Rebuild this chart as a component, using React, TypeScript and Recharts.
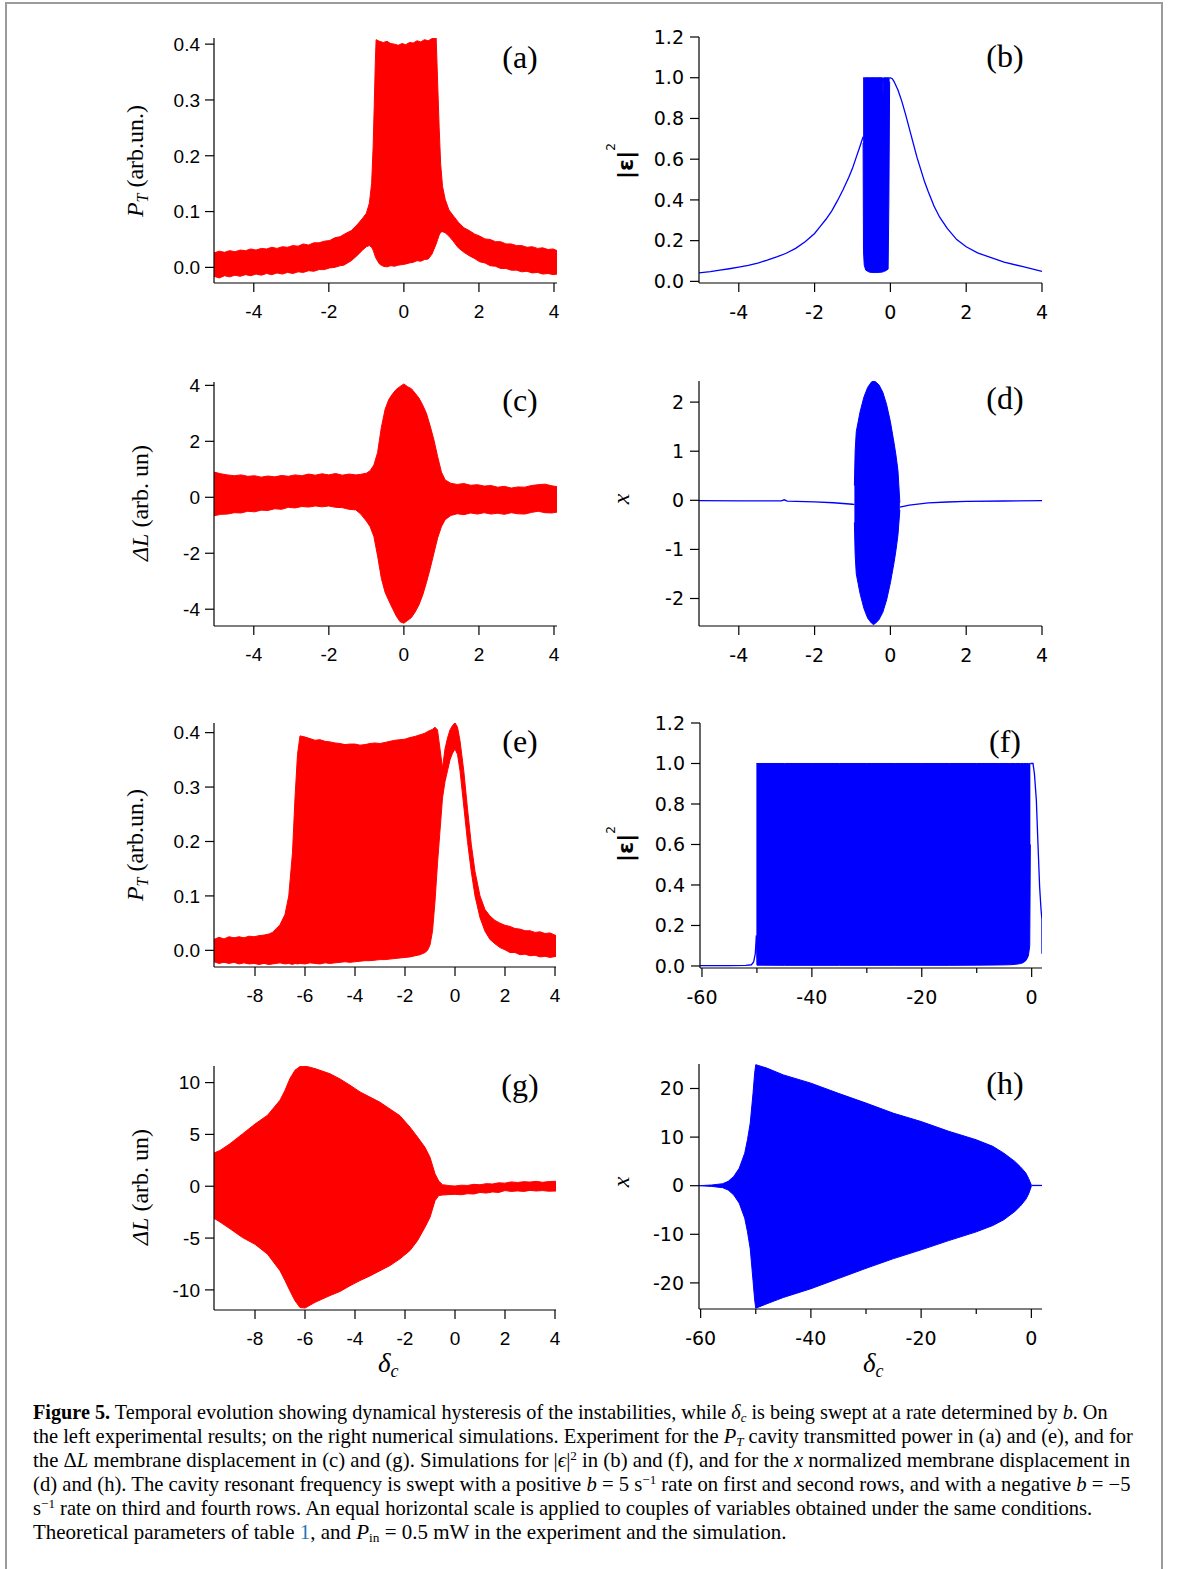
import React, { useLayoutEffect, useRef, useState } from "react";
import { ComposedChart, Area, Line, XAxis, YAxis } from "recharts";

const RED = "#ff0000";
const BLUE = "#0000ff";

// (a) experiment, transmitted power, positive sweep (left flat / resonance / right flat)
const aX1 = [-5.06, -4.92, -4.78, -4.64, -4.5, -4.36, -4.22, -4.08, -3.94, -3.8, -3.66, -3.52, -3.38, -3.24, -3.1, -2.96, -2.82, -2.68, -2.54, -2.4, -2.26, -2.12, -1.98, -1.84, -1.7, -1.6];
const aHi1 = [0.026, 0.029, 0.027, 0.03, 0.028, 0.031, 0.03, 0.033, 0.031, 0.034, 0.033, 0.036, 0.034, 0.037, 0.036, 0.039, 0.038, 0.042, 0.04, 0.044, 0.044, 0.047, 0.048, 0.053, 0.055, 0.059];
const aLo1 = [-0.016, -0.019, -0.015, -0.017, -0.014, -0.016, -0.013, -0.015, -0.012, -0.014, -0.011, -0.013, -0.01, -0.012, -0.009, -0.011, -0.008, -0.009, -0.006, -0.007, -0.004, -0.004, -0.001, 0.0, 0.003, 0.004];
const aX2 = [-1.4, -1.25, -1.1, -1.0, -0.92, -0.86, -0.82, -0.79, -0.76, -0.74, -0.65, -0.55, -0.45, -0.35, -0.25, -0.15, -0.05, 0.05, 0.15, 0.25, 0.35, 0.45, 0.55, 0.65, 0.75, 0.86, 0.9, 0.94, 0.98, 1.03, 1.1, 1.2, 1.3, 1.45];
const aHi2 = [0.066, 0.076, 0.088, 0.097, 0.115, 0.15, 0.215, 0.29, 0.37, 0.408, 0.405, 0.403, 0.405, 0.401, 0.4, 0.398, 0.401, 0.399, 0.403, 0.402, 0.406, 0.404, 0.408, 0.406, 0.41, 0.411, 0.33, 0.25, 0.185, 0.145, 0.122, 0.103, 0.094, 0.081];
const aLo2 = [0.012, 0.021, 0.031, 0.037, 0.039, 0.036, 0.031, 0.025, 0.019, 0.016, 0.006, 0.002, 0.001, 0.003, 0.002, 0.004, 0.005, 0.006, 0.008, 0.009, 0.012, 0.011, 0.014, 0.015, 0.024, 0.042, 0.05, 0.058, 0.063, 0.064, 0.062, 0.056, 0.048, 0.035];
const aX3 = [1.6, 1.74, 1.88, 2.02, 2.16, 2.3, 2.44, 2.58, 2.72, 2.86, 3.0, 3.14, 3.28, 3.42, 3.56, 3.7, 3.84, 3.98, 4.08];
const aHi3 = [0.071, 0.066, 0.06, 0.056, 0.051, 0.05, 0.046, 0.046, 0.042, 0.042, 0.039, 0.039, 0.036, 0.037, 0.034, 0.035, 0.032, 0.033, 0.03];
const aLo3 = [0.027, 0.021, 0.016, 0.01, 0.008, 0.003, 0.002, -0.002, -0.002, -0.005, -0.005, -0.008, -0.007, -0.01, -0.009, -0.012, -0.011, -0.013, -0.012];

// (b) simulation |eps|^2, positive sweep
const bLX = [-5.05, -4.75, -4.5, -4.25, -4, -3.75, -3.5, -3.25, -3, -2.75, -2.5, -2.25, -2, -1.85, -1.7, -1.55, -1.4, -1.25, -1.1, -1.0, -0.9, -0.8, -0.72];
const bLY = [0.042, 0.048, 0.055, 0.062, 0.07, 0.078, 0.09, 0.104, 0.12, 0.138, 0.162, 0.195, 0.235, 0.27, 0.305, 0.345, 0.395, 0.45, 0.51, 0.555, 0.61, 0.665, 0.71];
const bBX = [-0.72, -0.71, -0.69, -0.65, -0.55, -0.4, -0.25, -0.21, -0.195, -0.18, -0.15, -0.1, -0.06, -0.04, -0.02];
const bBLo = [0.68, 0.15, 0.08, 0.055, 0.045, 0.043, 0.045, 0.046, 0.047, 0.048, 0.05, 0.055, 0.06, 0.4, 0.98];
const bBHi = [1.0, 1.0, 1.0, 1.0, 1.0, 1.0, 1.0, 1.0, 0.91, 1.0, 1.0, 1.0, 1.0, 1.0, 1.0];
const bRX = [-0.02, 0.05, 0.1, 0.2, 0.3, 0.4, 0.5, 0.6, 0.7, 0.8, 0.9, 1.0, 1.15, 1.3, 1.5, 1.75, 2.0, 2.3, 2.6, 3.0, 3.5, 4.0];
const bRY = [1.0, 0.995, 0.98, 0.94, 0.885, 0.82, 0.75, 0.68, 0.61, 0.55, 0.49, 0.44, 0.37, 0.315, 0.26, 0.205, 0.17, 0.14, 0.12, 0.095, 0.072, 0.049];

// (c) experiment, membrane displacement, positive sweep
const cX1 = [-5.06, -4.88, -4.7, -4.52, -4.34, -4.16, -3.98, -3.8, -3.62, -3.44, -3.26, -3.08, -2.9, -2.72, -2.54, -2.36, -2.18, -2.0, -1.82, -1.64, -1.46, -1.28, -1.15];
const cHi1 = [0.9, 0.84, 0.8, 0.77, 0.8, 0.75, 0.77, 0.72, 0.76, 0.73, 0.78, 0.75, 0.8, 0.77, 0.83, 0.79, 0.84, 0.8, 0.85, 0.79, 0.83, 0.8, 0.82];
const cLo1 = [-0.66, -0.61, -0.6, -0.55, -0.56, -0.5, -0.52, -0.46, -0.47, -0.41, -0.43, -0.36, -0.38, -0.33, -0.35, -0.31, -0.34, -0.31, -0.36, -0.37, -0.43, -0.45, -0.6];
const cX2 = [-1.0, -0.9, -0.8, -0.7, -0.6, -0.5, -0.4, -0.3, -0.2, -0.1, 0, 0.1, 0.2, 0.3, 0.4, 0.5, 0.6, 0.7, 0.8, 0.9, 1.0, 1.1];
const cHi2 = [0.86, 0.95, 1.15, 1.6, 2.5, 3.15, 3.5, 3.7, 3.86, 3.96, 4.05, 3.95, 3.88, 3.72, 3.55, 3.3, 3.0, 2.55, 2.05, 1.45, 0.9, 0.62];
const cLo2 = [-0.85, -1.05, -1.4, -2.1, -2.9, -3.4, -3.7, -3.98, -4.25, -4.45, -4.5, -4.4, -4.3, -4.1, -3.85, -3.5, -3.05, -2.55, -2.0, -1.45, -1.05, -0.8];
const cX3 = [1.25, 1.42, 1.6, 1.78, 1.96, 2.14, 2.32, 2.5, 2.68, 2.86, 3.04, 3.22, 3.4, 3.58, 3.76, 3.94, 4.08];
const cHi3 = [0.5, 0.46, 0.49, 0.43, 0.45, 0.4, 0.42, 0.36, 0.39, 0.33, 0.37, 0.36, 0.42, 0.45, 0.47, 0.41, 0.38];
const cLo3 = [-0.65, -0.59, -0.62, -0.56, -0.6, -0.55, -0.6, -0.57, -0.61, -0.55, -0.59, -0.6, -0.54, -0.5, -0.55, -0.56, -0.53];

// (d) simulation x, positive sweep
const dLX = [-5.05, -4, -3, -2.88, -2.8, -2.72, -2, -1.5, -1, -0.95];
const dLY = [-0.007, -0.01, -0.012, -0.013, 0.01, -0.015, -0.03, -0.05, -0.08, -0.09];
const dBX = [-0.95, -0.93, -0.9, -0.85, -0.8, -0.7, -0.6, -0.5, -0.45, -0.4, -0.3, -0.2, -0.1, 0, 0.1, 0.15, 0.2, 0.25];
const dBLo = [-0.45, -1.1, -1.5, -1.7, -1.9, -2.2, -2.4, -2.5, -2.53, -2.51, -2.43, -2.28, -2.03, -1.68, -1.25, -1.0, -0.7, -0.2];
const dBHi = [0.3, 1.0, 1.4, 1.6, 1.8, 2.1, 2.3, 2.41, 2.44, 2.42, 2.35, 2.2, 1.95, 1.6, 1.15, 0.9, 0.6, -0.05];
const dRX = [0.25, 0.5, 1.0, 1.5, 2, 3, 4];
const dRY = [-0.14, -0.1, -0.054, -0.034, -0.02, -0.014, -0.007];

// (e) experiment, transmitted power, negative sweep
const eX1 = [-9.64, -9.44, -9.24, -9.04, -8.84, -8.64, -8.44, -8.24, -8.04, -7.84, -7.64, -7.44, -7.3, -7.15, -7.0, -6.8, -6.65, -6.5, -6.4, -6.3, -6.2];
const eHi1 = [0.02, 0.024, 0.021, 0.025, 0.023, 0.025, 0.023, 0.026, 0.025, 0.027, 0.028, 0.03, 0.033, 0.04, 0.047, 0.066, 0.1, 0.18, 0.28, 0.36, 0.394];
const eLo1 = [-0.021, -0.024, -0.022, -0.024, -0.022, -0.025, -0.023, -0.025, -0.024, -0.026, -0.024, -0.026, -0.025, -0.024, -0.023, -0.025, -0.024, -0.026, -0.024, -0.025, -0.024];
const eX2 = [-6.0, -5.8, -5.6, -5.4, -5.2, -5.0, -4.8, -4.6, -4.4, -4.2, -4.0, -3.8, -3.6, -3.4, -3.2, -3.0, -2.8, -2.6, -2.4, -2.2, -2.0, -1.8, -1.6, -1.4, -1.2, -1.1];
const eHi2 = [0.392, 0.389, 0.386, 0.387, 0.384, 0.383, 0.381, 0.38, 0.378, 0.379, 0.379, 0.377, 0.378, 0.38, 0.381, 0.38, 0.382, 0.384, 0.386, 0.387, 0.388, 0.391, 0.393, 0.396, 0.399, 0.402];
const eLo2 = [-0.025, -0.023, -0.024, -0.025, -0.023, -0.024, -0.023, -0.022, -0.021, -0.022, -0.021, -0.02, -0.019, -0.019, -0.018, -0.017, -0.017, -0.016, -0.015, -0.014, -0.013, -0.012, -0.01, -0.008, -0.004, 0.0];
const eX3 = [-1.0, -0.9, -0.8, -0.7, -0.6, -0.5, -0.4, -0.3, -0.2, -0.1, 0, 0.1, 0.2, 0.35, 0.5, 0.65, 0.8, 1.0, 1.2, 1.4];
const eHi3 = [0.404, 0.406, 0.41, 0.405, 0.37, 0.335, 0.37, 0.39, 0.405, 0.413, 0.418, 0.41, 0.385, 0.33, 0.26, 0.195, 0.145, 0.1, 0.075, 0.063];
const eLo3 = [0.01, 0.035, 0.09, 0.16, 0.22, 0.28, 0.31, 0.33, 0.35, 0.362, 0.37, 0.36, 0.33, 0.265, 0.2, 0.145, 0.1, 0.06, 0.035, 0.02];
const eX4 = [1.6, 1.8, 2.0, 2.2, 2.4, 2.6, 2.8, 3.0, 3.2, 3.4, 3.6, 3.8, 4.05];
const eHi4 = [0.055, 0.05, 0.046, 0.044, 0.04, 0.039, 0.036, 0.036, 0.033, 0.034, 0.031, 0.032, 0.027];
const eLo4 = [0.012, 0.005, 0.001, -0.004, -0.004, -0.008, -0.007, -0.01, -0.009, -0.012, -0.011, -0.013, -0.011];

// (f) simulation |eps|^2, negative sweep
const fLX = [-60.36, -55, -52, -51, -50.6, -50.3, -50.1];
const fLY = [0.002, 0.002, 0.003, 0.006, 0.02, 0.06, 0.15];
const fBX = [-50.1, -50.0, -45, -40, -35, -30, -25, -20, -15, -10, -6, -4, -3, -2, -1.5, -1, -0.6, -0.35, -0.24];
const fBLo = [0.15, 0.004, 0.003, 0.003, 0.003, 0.003, 0.003, 0.003, 0.003, 0.004, 0.005, 0.006, 0.008, 0.012, 0.017, 0.028, 0.05, 0.1, 0.6];
const fBHi = [1.0, 1.0, 1.0, 1.0, 1.0, 1.0, 1.0, 1.0, 1.0, 1.0, 1.0, 1.0, 1.0, 1.0, 1.0, 1.0, 1.0, 1.0, 1.0];
const fRX = [-0.24, 0.0, 0.24, 0.5, 0.85, 1.15, 1.45, 1.7, 1.87, 1.88];
const fRY = [1.0, 1.0, 1.0, 0.95, 0.82, 0.6, 0.39, 0.28, 0.23, 0.06];

// (g) experiment, membrane displacement, negative sweep
const gX1 = [-9.64, -9.4, -9.0, -8.5, -8.0, -7.5, -7.0, -6.8, -6.6, -6.4, -6.2, -6.0, -5.6, -5.0, -4.6, -4.2, -3.8, -3.4, -3.0, -2.6, -2.2, -1.8, -1.5, -1.2, -1.0, -0.8, -0.65, -0.5];
const gHi1 = [3.2, 3.45, 4.1, 5.05, 6.0, 6.85, 8.3, 9.25, 10.4, 11.2, 11.55, 11.6, 11.35, 10.85, 10.35, 9.75, 9.1, 8.6, 8.1, 7.45, 6.8, 5.7, 4.75, 3.75, 2.8, 1.2, 0.5, 0.15];
const gLo1 = [-3.1, -3.45, -4.1, -4.95, -5.6, -6.55, -8.15, -9.1, -10.1, -11.05, -11.7, -11.75, -11.2, -10.55, -10.15, -9.6, -9.1, -8.65, -8.15, -7.65, -7.0, -6.2, -5.25, -3.95, -3.0, -1.4, -0.9, -0.85];
const gX2 = [-0.2, 0, 0.25, 0.5, 0.75, 1.0, 1.25, 1.5, 1.75, 2.0, 2.25, 2.5, 2.75, 3.0, 3.25, 3.5, 3.75, 4.05];
const gHi2 = [0.05, 0.02, 0.1, 0.08, 0.18, 0.14, 0.25, 0.22, 0.33, 0.3, 0.42, 0.36, 0.44, 0.4, 0.47, 0.38, 0.45, 0.48];
const gLo2 = [-0.8, -0.78, -0.82, -0.72, -0.75, -0.6, -0.66, -0.55, -0.6, -0.42, -0.5, -0.45, -0.5, -0.4, -0.46, -0.42, -0.48, -0.46];

// (h) simulation x, negative sweep
const hBX = [-60.3, -60, -58, -56, -55, -54, -53, -52, -51.5, -51, -50.5, -50.2, -50, -48, -45, -40, -35, -30, -25, -20, -15, -10, -7, -5, -3, -2, -1, -0.5, 0];
const hBHi = [0, 0.02, 0.14, 0.41, 0.9, 1.9, 3.6, 6.7, 9.5, 12.9, 19, 23.2, 24.9, 24.2, 22.8, 21.1, 19.0, 17.0, 14.9, 13.2, 11.2, 9.45, 8.1, 6.7, 5.0, 3.9, 2.6, 1.5, 0.1];
const hBLo = [0, -0.02, -0.14, -0.41, -0.9, -1.9, -3.6, -6.7, -9.5, -13.0, -19.5, -23.5, -25.2, -24.3, -23.0, -21.2, -19.1, -17.0, -15.0, -13.2, -11.3, -9.5, -8.2, -7.0, -5.3, -4.2, -2.8, -1.7, -0.1];
const hRX = [0, 0.5, 1.93];
const hRY = [0.05, 0.05, 0.05];

const band = (xs: number[], lo: number[], hi: number[]) => xs.map((x, i) => ({ x, r: [lo[i], hi[i]] }));
const curve = (xs: number[], ys: number[]) => xs.map((x, i) => ({ x, y: ys[i] }));

const YW = 80;
const XH = 60;
const MT = 10;
const MR = 12;
const TICK = 9;

const SimTick = (props: any) => {
  const { x, y, payload } = props;
  const axisY = y - 14 - TICK;
  const major = payload.value % 20 === 0;
  return (
    <g>
      <line x1={x} x2={x} y1={axisY} y2={axisY + (major ? TICK : 5)} stroke="#000" strokeWidth={1.2} />
      {major && (
        <text x={x} y={y} dy="0.71em" textAnchor="middle" fill="#000" fontSize={19} fontFamily="DejaVu Sans">
          {payload.value}
        </text>
      )}
    </g>
  );
};

type PanelProps = {
  box: [number, number, number, number];
  xDomain: [number, number];
  xTicks: number[];
  yDomain: [number, number];
  yTicks: number[];
  yDigits: number;
  sim?: boolean;
  minor?: boolean;
  children: React.ReactNode;
};

function Panel({ box, xDomain, xTicks, yDomain, yTicks, yDigits, sim, minor, children }: PanelProps) {
  const [l, t, r, b] = box;
  const w = Math.round(r - l);
  const h = Math.round(b - t);
  const tickStyle = { fill: "#000", fontSize: 19, fontFamily: sim ? "DejaVu Sans" : "Liberation Sans" };
  const axisLine = { stroke: "#000", strokeWidth: 1.2 };
  return (
    <div style={{ position: "absolute", left: l - YW, top: t - MT }}>
      <ComposedChart width={YW + w + MR} height={MT + h + XH} margin={{ top: MT, right: MR, bottom: 0, left: 0 }}>
        <XAxis
          type="number"
          dataKey="x"
          domain={xDomain}
          ticks={xTicks}
          interval={0}
          allowDataOverflow
          height={XH}
          tickSize={TICK}
          tickMargin={sim ? 14 : 13}
          axisLine={axisLine}
          tickLine={minor ? false : axisLine}
          tick={minor ? <SimTick /> : tickStyle}
        />
        <YAxis
          type="number"
          domain={yDomain}
          ticks={yTicks}
          interval={0}
          allowDataOverflow
          width={YW}
          tickSize={TICK}
          tickMargin={sim ? 6 : 5}
          axisLine={axisLine}
          tickLine={axisLine}
          tick={tickStyle}
          tickFormatter={(v: number) => (yDigits ? v.toFixed(yDigits) : String(v))}
        />
        {children}
      </ComposedChart>
    </div>
  );
}

const redBand = (data: any[]) => (
  <Area data={data} dataKey="r" type="linear" stroke={RED} strokeWidth={1} fill={RED} fillOpacity={1} isAnimationActive={false} />
);

const blueBand = (data: any[], key: string) => (
  <Area key={key} data={data} dataKey="r" type="linear" stroke={BLUE} strokeWidth={1} fill={BLUE} fillOpacity={1} isAnimationActive={false} />
);

const blueLine = (data: any[], key: string) => (
  <Line key={key} data={data} dataKey="y" type="linear" stroke={BLUE} strokeWidth={1.3} dot={false} isAnimationActive={false} />
);

const serif = "Liberation Serif";

// one caption line, squeezed horizontally to the width it has in the figure
function FitLine({ x, y, width, children }: { x: number; y: number; width?: number; children: React.ReactNode }) {
  const ref = useRef<SVGTextElement>(null);
  const [k, setK] = useState(1);
  useLayoutEffect(() => {
    if (ref.current && width) {
      const w = ref.current.getComputedTextLength();
      if (w > 0) setK(width / w);
    }
  }, [width]);
  return (
    <text ref={ref} transform={`translate(${x},${y}) scale(${k},1)`} style={{ whiteSpace: "pre" }}>
      {children}
    </text>
  );
}

export default function App() {
  return (
    <div style={{ position: "absolute", left: 0, top: 0, width: 1179, height: 1569, background: "#fff", overflow: "hidden" }}>
      <div style={{ position: "absolute", left: 5, top: 2, width: 1158, height: 1620, border: "2px solid #9b9b9b", boxSizing: "border-box" }} />

      <Panel box={[214, 38, 557, 283.3]} xDomain={[-5.06, 4.08]} xTicks={[-4, -2, 0, 2, 4]} yDomain={[-0.028, 0.411]} yTicks={[0, 0.1, 0.2, 0.3, 0.4]} yDigits={1}>
        {redBand(band([...aX1, ...aX2, ...aX3], [...aLo1, ...aLo2, ...aLo3], [...aHi1, ...aHi2, ...aHi3]))}
      </Panel>
      <Panel box={[699.3, 36.7, 1042.3, 282.7]} sim xDomain={[-5.05, 4.0]} xTicks={[-4, -2, 0, 2, 4]} yDomain={[-0.008, 1.2]} yTicks={[0, 0.2, 0.4, 0.6, 0.8, 1.0, 1.2]} yDigits={1}>
        {[blueLine(curve(bLX, bLY), "l"), blueBand(band(bBX, bBLo, bBHi), "b"), blueLine(curve(bRX, bRY), "r")]}
      </Panel>
      <Panel box={[214, 381.7, 557, 625.7]} xDomain={[-5.06, 4.08]} xTicks={[-4, -2, 0, 2, 4]} yDomain={[-4.6, 4.12]} yTicks={[-4, -2, 0, 2, 4]} yDigits={0}>
        {redBand(band([...cX1, ...cX2, ...cX3], [...cLo1, ...cLo2, ...cLo3], [...cHi1, ...cHi2, ...cHi3]))}
      </Panel>
      <Panel box={[699.3, 380.7, 1042.3, 625.7]} sim xDomain={[-5.05, 4.0]} xTicks={[-4, -2, 0, 2, 4]} yDomain={[-2.56, 2.43]} yTicks={[-2, -1, 0, 1, 2]} yDigits={0}>
        {[blueLine(curve(dLX, dLY), "l"), blueBand(band(dBX, dBLo, dBHi), "b"), blueLine(curve(dRX, dRY), "r")]}
      </Panel>
      <Panel box={[214, 722.7, 556, 966.7]} xDomain={[-9.64, 4.04]} xTicks={[-8, -6, -4, -2, 0, 2, 4]} yDomain={[-0.0306, 0.4177]} yTicks={[0, 0.1, 0.2, 0.3, 0.4]} yDigits={1}>
        {redBand(band([...eX1, ...eX2, ...eX3, ...eX4], [...eLo1, ...eLo2, ...eLo3, ...eLo4], [...eHi1, ...eHi2, ...eHi3, ...eHi4]))}
      </Panel>
      <Panel box={[700, 722.7, 1042.3, 967.7]} sim minor xDomain={[-60.36, 1.88]} xTicks={[-60, -50, -40, -30, -20, -10, 0]} yDomain={[-0.01, 1.2]} yTicks={[0, 0.2, 0.4, 0.6, 0.8, 1.0, 1.2]} yDigits={1}>
        {[blueLine(curve(fLX, fLY), "l"), blueBand(band(fBX, fBLo, fBHi), "b"), blueLine(curve(fRX, fRY), "r")]}
      </Panel>
      <Panel box={[214.3, 1065.7, 556, 1309.3]} xDomain={[-9.64, 4.04]} xTicks={[-8, -6, -4, -2, 0, 2, 4]} yDomain={[-11.94, 11.6]} yTicks={[-10, -5, 0, 5, 10]} yDigits={0}>
        {redBand(band([...gX1, ...gX2], [...gLo1, ...gLo2], [...gHi1, ...gHi2]))}
      </Panel>
      <Panel box={[699.3, 1064.3, 1042.3, 1309.3]} sim minor xDomain={[-60.3, 1.93]} xTicks={[-60, -50, -40, -30, -20, -10, 0]} yDomain={[-25.37, 25.04]} yTicks={[-20, -10, 0, 10, 20]} yDigits={0}>
        {[blueBand(band(hBX, hBLo, hBHi), "b"), blueLine(curve(hRX, hRY), "r")]}
      </Panel>

      <svg width={1179} height={1569} style={{ position: "absolute", left: 0, top: 0, pointerEvents: "none" }}>
        {/* panel letters */}
        <g fontFamily={serif} fontSize={32} textAnchor="middle" fill="#000">
          <text x={520} y={67.5}>(a)</text>
          <text x={1005} y={66.7}>(b)</text>
          <text x={520} y={410.5}>(c)</text>
          <text x={1005} y={409.2}>(d)</text>
          <text x={520} y={751.5}>(e)</text>
          <text x={1005} y={751.5}>(f)</text>
          <text x={520} y={1096}>(g)</text>
          <text x={1005} y={1094.2}>(h)</text>
        </g>

        {/* left axis titles */}
        <g fontFamily={serif} fontSize={24} textAnchor="middle" fill="#000" style={{ whiteSpace: "pre" }}>
          <text transform="translate(143,161) rotate(-90)">
            <tspan fontStyle="italic">P</tspan>
            <tspan fontStyle="italic" fontSize={16} dy={5}>T</tspan>
            <tspan dy={-5}>{" (arb.un.)"}</tspan>
          </text>
          <text transform="translate(148,503) rotate(-90)">
            <tspan fontStyle="italic">ΔL</tspan>
            <tspan>{" (arb. un)"}</tspan>
          </text>
          <text transform="translate(143,845) rotate(-90)">
            <tspan fontStyle="italic">P</tspan>
            <tspan fontStyle="italic" fontSize={16} dy={5}>T</tspan>
            <tspan dy={-5}>{" (arb.un.)"}</tspan>
          </text>
          <text transform="translate(148,1187) rotate(-90)">
            <tspan fontStyle="italic">ΔL</tspan>
            <tspan>{" (arb. un)"}</tspan>
          </text>
        </g>

        {/* right axis titles */}
        <g fontFamily="DejaVu Sans" fontWeight="bold" fontSize={22} textAnchor="middle" fill="#000">
          <text transform="translate(633,161) rotate(-90)">
            |ε|<tspan fontSize={12} fontWeight="normal" dy={-18}>2</tspan>
          </text>
          <text transform="translate(633,844) rotate(-90)">
            |ε|<tspan fontSize={12} fontWeight="normal" dy={-18}>2</tspan>
          </text>
        </g>
        <g fontFamily={serif} fontSize={24} fontStyle="italic" textAnchor="middle" fill="#000">
          <text transform="translate(629,499) rotate(-90)">x</text>
          <text transform="translate(629,1182) rotate(-90)">x</text>
        </g>

        {/* bottom axis titles */}
        <g fontFamily={serif} fontSize={27} fontStyle="italic" fill="#000">
          <text x={378} y={1372}>
            δ<tspan fontSize={18} dy={5}>c</tspan>
          </text>
          <text x={863} y={1372}>
            δ<tspan fontSize={18} dy={5}>c</tspan>
          </text>
        </g>

        {/* caption */}
        <g fontFamily={serif} fontSize={20.5} fill="#000">
          <FitLine x={33} y={1419} width={1075}>
            <tspan fontWeight="bold">Figure 5.</tspan>
            <tspan>{" Temporal evolution showing dynamical hysteresis of the instabilities, while "}</tspan>
            <tspan fontStyle="italic">δ</tspan>
            <tspan fontStyle="italic" fontSize={13} dy={3}>c</tspan>
            <tspan dy={-3}>{" is being swept at a rate determined by "}</tspan>
            <tspan fontStyle="italic">b</tspan>
            <tspan>{". On"}</tspan>
          </FitLine>
          <FitLine x={33} y={1443} width={1100}>
            <tspan>{"the left experimental results; on the right numerical simulations. Experiment for the "}</tspan>
            <tspan fontStyle="italic">P</tspan>
            <tspan fontStyle="italic" fontSize={13} dy={3}>T</tspan>
            <tspan dy={-3}>{" cavity transmitted power in (a) and (e), and for"}</tspan>
          </FitLine>
          <FitLine x={33} y={1467} width={1098}>
            <tspan>{"the Δ"}</tspan>
            <tspan fontStyle="italic">L</tspan>
            <tspan>{" membrane displacement in (c) and (g). Simulations for |"}</tspan>
            <tspan fontStyle="italic">ϵ</tspan>
            <tspan>{"|"}</tspan>
            <tspan fontSize={13} dy={-7}>2</tspan>
            <tspan dy={7}>{" in (b) and (f), and for the "}</tspan>
            <tspan fontStyle="italic">x</tspan>
            <tspan>{" normalized membrane displacement in"}</tspan>
          </FitLine>
          <FitLine x={33} y={1491} width={1098}>
            <tspan>{"(d) and (h). The cavity resonant frequency is swept with a positive "}</tspan>
            <tspan fontStyle="italic">b</tspan>
            <tspan>{" = 5 s"}</tspan>
            <tspan fontSize={13} dy={-7}>{"−1"}</tspan>
            <tspan dy={7}>{" rate on first and second rows, and with a negative "}</tspan>
            <tspan fontStyle="italic">b</tspan>
            <tspan>{" = −5"}</tspan>
          </FitLine>
          <FitLine x={33} y={1515} width={1060}>
            <tspan>{"s"}</tspan>
            <tspan fontSize={13} dy={-7}>{"−1"}</tspan>
            <tspan dy={7}>{" rate on third and fourth rows. An equal horizontal scale is applied to couples of variables obtained under the same conditions."}</tspan>
          </FitLine>
          <FitLine x={33} y={1539} width={754}>
            <tspan>{"Theoretical parameters of table "}</tspan>
            <tspan fill="#1f77b4">1</tspan>
            <tspan>{", and "}</tspan>
            <tspan fontStyle="italic">P</tspan>
            <tspan fontSize={13} dy={3}>in</tspan>
            <tspan dy={-3}>{" = 0.5 mW in the experiment and the simulation."}</tspan>
          </FitLine>
        </g>
      </svg>
    </div>
  );
}
